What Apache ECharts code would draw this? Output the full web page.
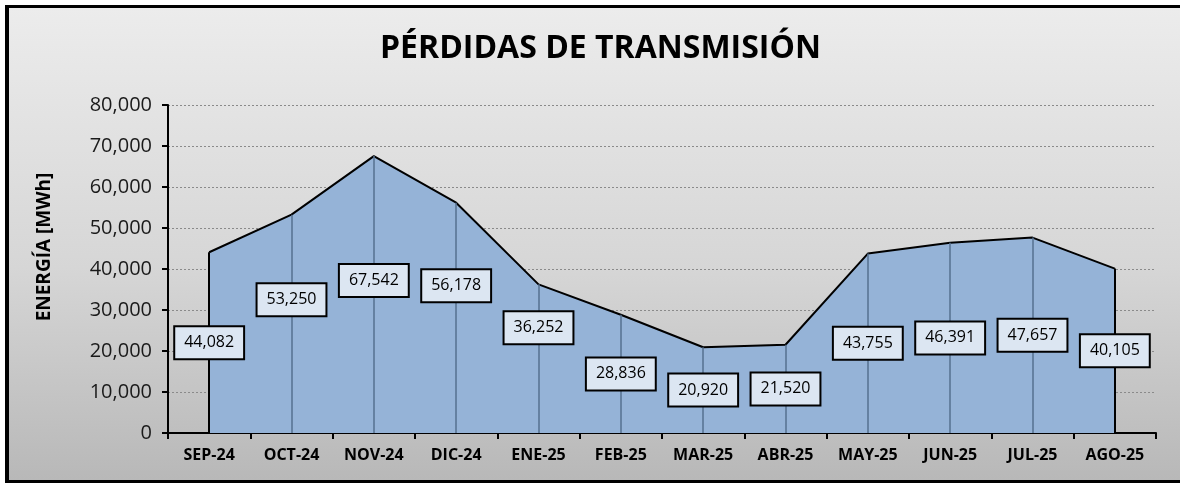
<!DOCTYPE html>
<html>
<head>
<meta charset="utf-8">
<script src="https://cdn.jsdelivr.net/npm/echarts@6/dist/echarts.min.js"></script>
<style>
  html, body { margin: 0; padding: 0; background: #ffffff; }
  #frame {
    position: absolute; left: 5px; top: 5px; width: 1180px; height: 472px;
    border-left: 4px solid #000; border-top: 3px solid #000; border-bottom: 3px solid #000;
    background: linear-gradient(to bottom, #ececec 0%, #d6d6d6 55%, #b8b8b8 100%);
  }
  #c1 { position: absolute; left: 0; top: 0; width: 1180px; height: 483px; }
</style>
</head>
<body>
<div id="frame"></div>
<div id="c1"></div>
<script>
// categorias y valores (MWh)
var meses = ['SEP-24','OCT-24','NOV-24','DIC-24','ENE-25','FEB-25','MAR-25','ABR-25','MAY-25','JUN-25','JUL-25','AGO-25'];
var perdidas = [44082, 53250, 67542, 56178, 36252, 28836, 20920, 21520, 43755, 46391, 47657, 40105];
var ticksY = [0, 10000, 20000, 30000, 40000, 50000, 60000, 70000, 80000];

function fmt(v){ return v.toString().replace(/\B(?=(\d{3})+(?!\d))/g, ','); }

// etiquetas movidas a mano en el original
var ajuste = {1: -24, 2: -14, 3: -32, 4: -31};

var caidas = [];
for (var i = 0; i < meses.length; i++) {
  var borde = (i == 0 || i == meses.length - 1);
  caidas.push([
    {coord: [i, 0], lineStyle: {color: borde ? '#000' : '#56708f', width: borde ? 2 : 1.5, type: 'solid'}},
    {coord: [i, perdidas[i]]}
  ]);
}

var etiquetas = perdidas.map(function(v, i){
  return {value: v / 2, label: {offset: [0, ajuste[i] || 0]}};
});

var myChart = echarts.init(document.getElementById('c1'));
myChart.setOption({
  backgroundColor: 'transparent',
  animation: false,
  textStyle: {fontFamily: 'Open Sans'},
  title: {
    text: 'PÉRDIDAS DE TRANSMISIÓN',
    left: 375, top: 28,
    textStyle: {fontSize: 32, fontWeight: 'bold', color: '#000', fontFamily: 'Open Sans'}
  },
  graphic: [{
    type: 'text', x: 45, y: 247, rotation: Math.PI / 2,
    style: {text: 'ENERGÍA [MWh]', align: 'center', verticalAlign: 'middle',
            font: 'bold 19px "Open Sans"', fill: '#000'}
  }],
  grid: {left: 168, right: 24, top: 105, bottom: 50},
  xAxis: {
    type: 'category',
    data: meses,
    boundaryGap: true,
    axisLine: {lineStyle: {color: '#000', width: 2}},
    axisTick: {show: true, length: 6, lineStyle: {color: '#000', width: 2}},
    axisLabel: {fontSize: 16, fontWeight: 'bold', color: '#000', margin: 14}
  },
  yAxis: {
    type: 'value',
    min: ticksY[0], max: ticksY[ticksY.length - 1], interval: 10000,
    axisLine: {show: true, lineStyle: {color: '#000', width: 2}},
    axisTick: {show: true, length: 6, lineStyle: {color: '#000', width: 2}},
    axisLabel: {fontSize: 20, color: '#1a1a1a', margin: 16, formatter: function(v){ return fmt(v); }},
    splitLine: {show: true, lineStyle: {color: '#8a8a8a', type: [2, 2], width: 1}}
  },
  series: [
    {
      type: 'line',
      data: perdidas,
      symbol: 'none',
      lineStyle: {color: '#000', width: 2},
      areaStyle: {color: '#95b3d7', opacity: 1},
      markLine: {silent: true, symbol: 'none', label: {show: false}, data: caidas},
      z: 2
    },
    {
      type: 'scatter',
      data: etiquetas,
      symbolSize: 0,
      itemStyle: {opacity: 1},
      z: 5,
      label: {
        show: true,
        position: 'inside',
        formatter: function(p){ return fmt(perdidas[p.dataIndex]); },
        fontSize: 16, color: '#000', lineHeight: 19, opacity: 1,
        backgroundColor: '#dce6f2',
        borderColor: '#000', borderWidth: 2,
        padding: [6, 9, 6, 9]
      }
    }
  ]
});
</script>
</body>
</html>
